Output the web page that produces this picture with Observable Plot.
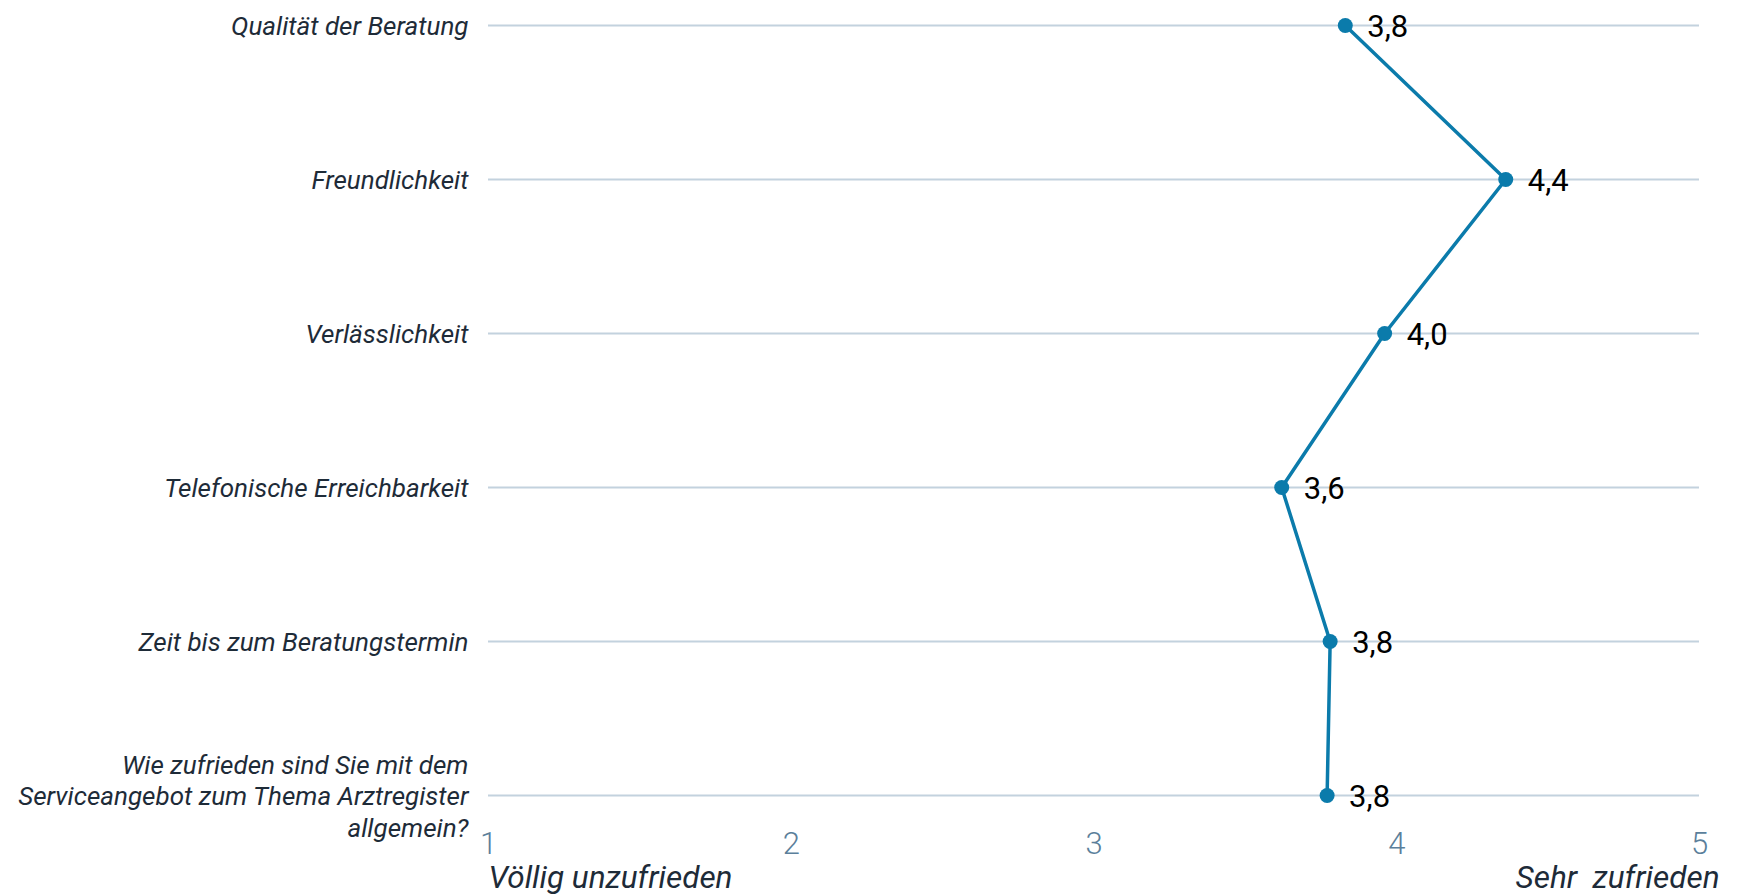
<!DOCTYPE html>
<html>
<head>
<meta charset="utf-8">
<script src="https://cdn.jsdelivr.net/npm/d3@7"></script>
<script src="https://cdn.jsdelivr.net/npm/@observablehq/plot@0.6"></script>
<style>
  body { margin: 0; background: #ffffff; }
  svg text { white-space: pre; }
</style>
</head>
<body>
<div id="chart"></div>
<script>
// Service-Zufriedenheit: Mittelwerte je Aspekt auf einer Skala von 1 bis 5
const categories = [
  "Qualität der Beratung",
  "Freundlichkeit",
  "Verlässlichkeit",
  "Telefonische Erreichbarkeit",
  "Zeit bis zum Beratungstermin",
  "Wie zufrieden sind Sie mit dem\nServiceangebot zum Thema Arztregister\nallgemein?"
];
const scores = [3.83, 4.36, 3.96, 3.62, 3.78, 3.77];
const scaleTicks = [1, 2, 3, 4, 5];
const scaleEnds = ["Völlig unzufrieden", "Sehr  zufrieden"];

const rows = categories.map((category, i) => ({category, score: scores[i]}));
const fmt = v => v.toFixed(1).replace(".", ",");

const blue = "#0b7bab";
const ink = "#1e2b38";

const chart = Plot.plot({
  width: 1739,
  height: 895,
  marginLeft: 488,
  marginRight: 40,
  marginTop: 24,
  marginBottom: 99,
  style: {fontFamily: "Roboto, sans-serif", background: "#ffffff", overflow: "visible"},
  x: {domain: [1, 5], label: null},
  y: {domain: categories, type: "point", padding: 0, label: null},
  marks: [
    Plot.ruleY(categories, {stroke: "#c3d2de", strokeWidth: 2}),
    Plot.axisY({
      tickSize: 0, tickPadding: 20, fontSize: 26, fontStyle: "italic",
      color: ink, lineHeight: 1.2, label: null
    }),
    Plot.axisX({
      ticks: scaleTicks, tickFormat: d => String(d), tickSize: 0, tickPadding: 35,
      fontSize: 31, fontWeight: 300, color: "#5b7f9b", label: null
    }),
    Plot.line(rows, {x: "score", y: "category", stroke: blue, strokeWidth: 3.5}),
    Plot.dot(rows, {x: "score", y: "category", r: 7.5, fill: blue}),
    Plot.text(rows, {
      x: "score", y: "category", text: d => fmt(d.score),
      dx: 22, dy: 2, textAnchor: "start", fontSize: 31, fill: "#000000"
    }),
    Plot.text([scaleEnds[0]], {
      frameAnchor: "bottom-left", text: d => d, textAnchor: "start",
      dy: 91, fontSize: 31.5, fontStyle: "italic", fill: ink
    }),
    Plot.text([scaleEnds[1]], {
      frameAnchor: "bottom-right", text: d => d, textAnchor: "end",
      dx: 20, dy: 91, fontSize: 31.5, fontStyle: "italic", fill: ink
    })
  ]
});

document.getElementById("chart").appendChild(chart);
</script>
</body>
</html>
